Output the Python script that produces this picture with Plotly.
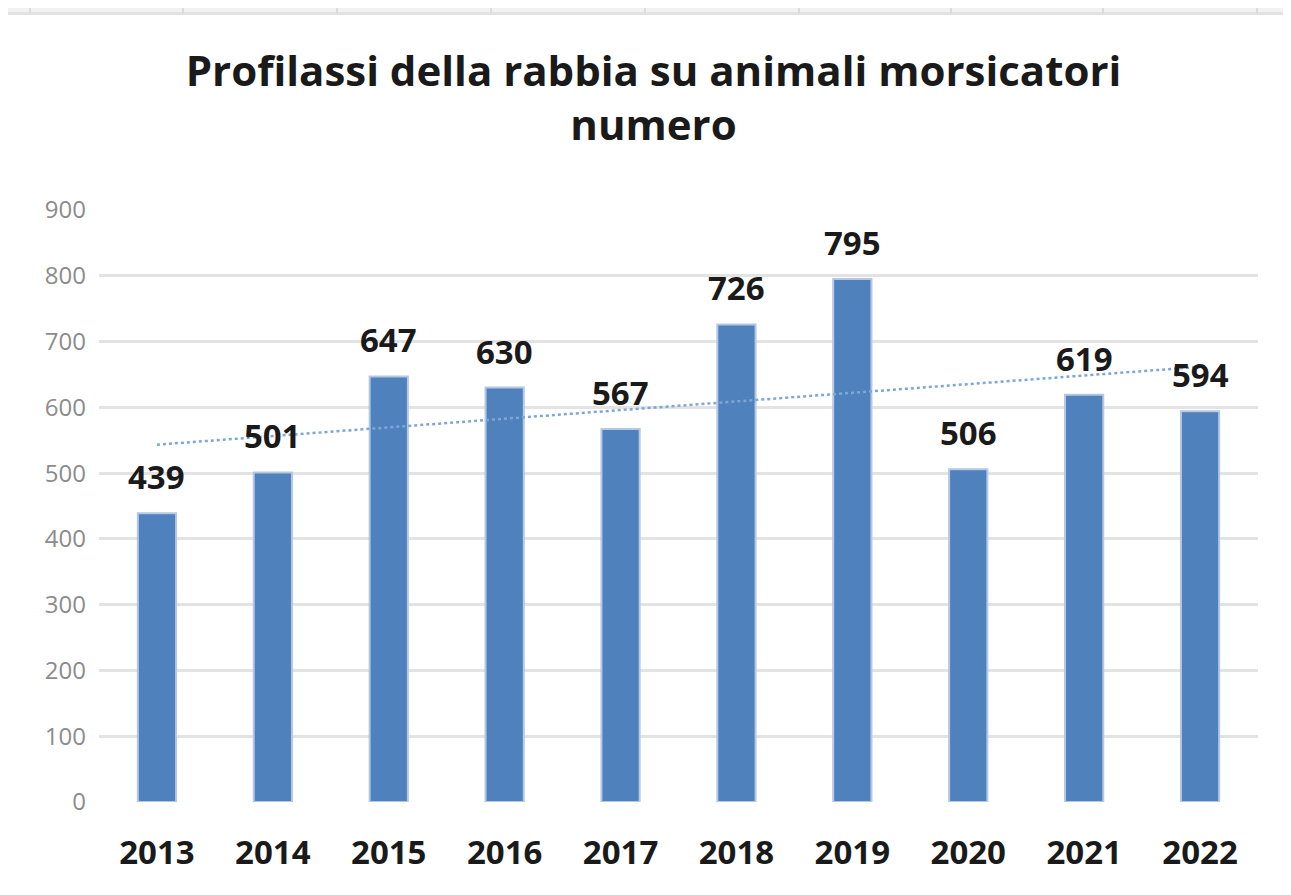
import numpy as np
import plotly.graph_objects as go

years = ["2013", "2014", "2015", "2016", "2017", "2018", "2019", "2020", "2021", "2022"]
counts = [439, 501, 647, 630, 567, 726, 795, 506, 619, 594]
y_ticks = [0, 100, 200, 300, 400, 500, 600, 700, 800, 900]

# linear trendline like the spreadsheet one
idx = np.arange(1, len(counts) + 1)
slope, intercept = np.polyfit(idx, counts, 1)
trend = slope * idx + intercept

label_font = dict(family="Open Sans", size=33, color="#1a1a1a", weight="bold")

fig = go.Figure()
fig.add_trace(go.Bar(
    x=years, y=counts,
    marker=dict(color="#4f81bd", line=dict(color="#b4c8e4", width=2)),
    width=0.33,
    hoverinfo="x+y",
))
fig.add_trace(go.Scatter(
    x=years, y=trend, mode="lines",
    line=dict(color="#7ea6d6", width=2.5, dash="dot"),
    hoverinfo="skip",
))

# data labels above the bars (category index as x)
annotations = [
    dict(x=i, y=v, text=str(v), showarrow=False, xref="x", yref="y",
         yanchor="bottom", yshift=12, font=label_font)
    for i, v in enumerate(counts)
]

# faint spreadsheet cell strip along the top edge
plot_h = 592
top = 202


def py(px_from_top):
    return 1 + (top - px_from_top) / plot_h


shapes = [
    dict(type="rect", xref="paper", yref="paper", x0=-0.1, x1=1.05,
         y0=py(4), y1=py(0), fillcolor="#f2f2f2", line=dict(width=0), layer="below"),
    dict(type="rect", xref="paper", yref="paper", x0=-0.1, x1=1.05,
         y0=py(7), y1=py(4), fillcolor="#e2e2e2", line=dict(width=0), layer="below"),
]
for sx in [22, 175, 329, 483, 637, 791, 943, 1095, 1249]:
    xp = (sx - 91) / 1159
    shapes.append(dict(type="line", xref="paper", yref="paper", x0=xp, x1=xp,
                       y0=py(6), y1=py(0), line=dict(color="#dcdcdc", width=2)))

fig.update_layout(
    width=1291, height=895,
    paper_bgcolor="white", plot_bgcolor="white",
    showlegend=False,
    margin=dict(l=91, r=41, t=top, b=101),
    title=dict(
        text="Profilassi della rabbia su animali morsicatori<br>numero",
        x=0.5, xanchor="center", y=0.913, yanchor="top",
        font=dict(family="Open Sans", size=42, color="#1a1a1a", weight="bold"),
    ),
    xaxis=dict(
        type="category", range=[-0.5, len(years) - 0.5], autorange=False,
        showgrid=False, showline=False, zeroline=False,
        tickfont=dict(family="Open Sans", size=33, color="#1a1a1a", weight="bold"),
        ticklabelstandoff=28,
    ),
    yaxis=dict(
        range=[0, 900], tickvals=y_ticks, autorange=False,
        showgrid=True, gridcolor="#e3e3e3", gridwidth=3,
        zeroline=False, showline=False,
        tickfont=dict(family="Open Sans", size=24, color="#8c8c8c"),
        ticklabelstandoff=12,
    ),
    annotations=annotations,
    shapes=shapes,
)

fig.write_html("out.html")
